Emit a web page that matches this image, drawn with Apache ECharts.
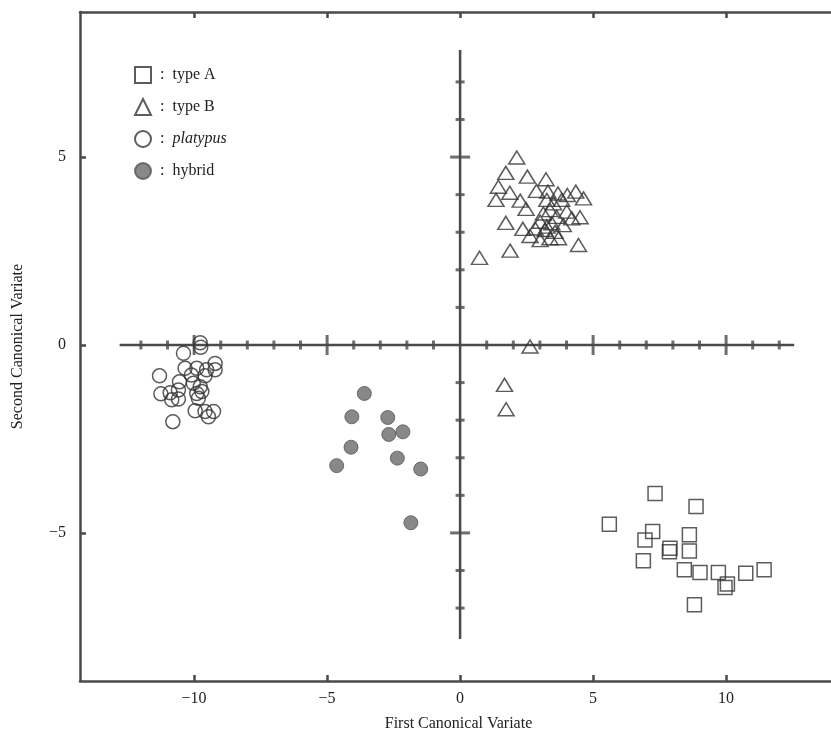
<!DOCTYPE html>
<html>
<head>
<meta charset="utf-8">
<script src="https://cdn.jsdelivr.net/npm/echarts@6/dist/echarts.min.js"></script>
<style>
  html, body { margin: 0; padding: 0; background: #fff; }
  #chart { width: 831px; height: 736px; }
</style>
</head>
<body>
<div id="chart"></div>
<script>
// scores on the first two canonical variates
var typeA = [
  [7.33, -3.95], [8.87, -4.30], [5.61, -4.77], [7.24, -4.96], [6.95, -5.19],
  [8.62, -5.05], [7.89, -5.41], [7.87, -5.50], [8.62, -5.48], [6.89, -5.74],
  [8.43, -5.98], [9.02, -6.05], [9.71, -6.05], [10.74, -6.07], [11.43, -5.98],
  [10.05, -6.36], [9.96, -6.45], [8.81, -6.91]
];
var typeB = [
  [2.13, 4.99], [1.72, 4.58], [2.53, 4.48], [3.23, 4.41], [1.44, 4.21],
  [1.87, 4.05], [2.87, 4.10], [3.30, 4.08], [3.68, 4.03], [4.03, 3.99],
  [4.35, 4.08], [4.64, 3.90], [1.35, 3.86], [2.26, 3.84], [2.48, 3.62],
  [3.26, 3.86], [3.51, 3.77], [3.82, 3.86], [3.38, 3.59], [4.01, 3.55],
  [3.13, 3.50], [3.63, 3.41], [4.51, 3.40], [1.72, 3.25], [3.01, 3.28],
  [3.45, 3.24], [3.88, 3.19], [2.36, 3.09], [2.82, 3.10], [3.20, 3.06],
  [3.57, 3.01], [2.63, 2.90], [3.01, 2.79], [3.38, 2.84], [3.70, 2.84],
  [4.45, 2.66], [1.88, 2.51], [0.73, 2.32], [3.26, 3.15], [4.20, 3.37],
  [2.63, -0.04], [1.67, -1.06], [1.73, -1.71]
];
var platypus = [
  [-9.77, 0.06], [-9.75, -0.06], [-10.40, -0.22], [-9.21, -0.49], [-10.34, -0.62],
  [-9.90, -0.62], [-9.53, -0.66], [-9.21, -0.66], [-11.30, -0.82], [-10.10, -0.80],
  [-9.59, -0.82], [-10.55, -0.98], [-10.03, -1.02], [-9.77, -1.11], [-11.25, -1.30],
  [-10.90, -1.27], [-10.59, -1.20], [-9.90, -1.29], [-9.71, -1.24], [-10.84, -1.46],
  [-10.59, -1.44], [-9.84, -1.42], [-9.96, -1.75], [-9.59, -1.77], [-9.27, -1.77],
  [-9.46, -1.91], [-10.80, -2.04]
];
var hybrid = [
  [-3.60, -1.29], [-4.07, -1.91], [-2.72, -1.93], [-2.68, -2.38], [-2.15, -2.31],
  [-4.10, -2.72], [-2.36, -3.01], [-4.64, -3.21], [-1.48, -3.30], [-1.85, -4.73]
];

// axis ticks / labels
var frameTicks = [-10, -5, 0, 5, 10];
var yFrameTicks = [-5, 0, 5];
// crossed reference lines through the origin
var crossH = [[-12.8, 0], [12.56, 0]];
var crossV = [[0, 7.85], [0, -7.82]];
var crossXTicks = [-12, -11, -10, -9, -8, -7, -6, -5, -4, -3, -2, -1, 1, 2, 3, 4, 5, 6, 7, 8, 9, 10, 11, 12];
var crossYTicks = [-7, -6, -5, -4, -3, -2, -1, 1, 2, 3, 4, 5, 6, 7];

var ink = '#4a4a4a';
var serif = '"Liberation Serif", "DejaVu Serif", serif';

var chart = echarts.init(document.getElementById('chart'));

function frameAxis(pos, isX, showLabel) {
  var ticks = isX ? frameTicks : yFrameTicks;
  return {
    type: 'value',
    position: pos,
    min: isX ? -14.29 : -8.94,
    max: isX ? 14.17 : 8.86,
    axisLine: { show: true, onZero: false, lineStyle: { color: ink, width: 2.5 } },
    axisTick: { show: true, inside: true, length: 6, customValues: ticks, lineStyle: { color: ink, width: 2.5 } },
    axisLabel: {
      show: showLabel,
      customValues: ticks,
      color: '#222',
      fontFamily: serif,
      fontSize: 16,
      margin: isX ? 10 : 14,
      formatter: function (v) { return v < 0 ? '\u2212' + Math.abs(v) : '' + v; }
    },
    splitLine: { show: false }
  };
}

var xB = frameAxis('bottom', true, true);
xB.name = 'First Canonical Variate';
xB.nameLocation = 'middle';
xB.nameGap = 35;
xB.nameTextStyle = { fontFamily: serif, fontSize: 16, color: '#222' };
var yL = frameAxis('left', false, true);
yL.name = 'Second Canonical Variate';
yL.nameLocation = 'middle';
yL.nameGap = 54;
yL.nameTextStyle = { fontFamily: serif, fontSize: 16, color: '#222' };

var markStyle = { color: 'rgba(0,0,0,0)', borderColor: '#333', borderWidth: 1.5 };

var tickData = crossXTicks.map(function (x) {
  return { value: [x, 0], symbolSize: x % 5 === 0 ? [3, 20] : [3, 9] };
}).concat(crossYTicks.map(function (y) {
  return { value: [0, y], symbolSize: y % 5 === 0 ? [20, 3] : [9, 3] };
}));

var option = {
  animation: false,
  backgroundColor: '#fff',
  grid: { left: 80, right: -6, top: 12, bottom: 55, outerBoundsMode: 'none' },
  xAxis: [xB, frameAxis('top', true, false)],
  yAxis: [yL, frameAxis('right', false, false)],
  legend: {
    orient: 'vertical',
    left: 129,
    top: 61,
    itemWidth: 16,
    itemHeight: 16,
    itemGap: 14,
    data: ['type A', 'type B', 'platypus', 'hybrid'],
    formatter: function (name) {
      return name === 'platypus' ? ' :  {i|platypus}' : ' :  ' + name;
    },
    textStyle: {
      fontFamily: serif,
      fontSize: 16,
      color: '#222',
      rich: { i: { fontFamily: serif, fontSize: 16, fontStyle: 'italic', color: '#222' } }
    }
  },
  series: [
    {
      type: 'line', data: crossH, symbol: 'none', silent: true, z: 1,
      lineStyle: { color: ink, width: 2.5 }
    },
    {
      type: 'line', data: crossV, symbol: 'none', silent: true, z: 1,
      lineStyle: { color: ink, width: 2.5 }
    },
    {
      type: 'scatter', data: tickData, symbol: 'rect', silent: true, z: 1,
      itemStyle: { color: ink }
    },
    {
      name: 'type A', type: 'scatter', data: typeA, symbol: 'rect', symbolSize: 14, z: 3,
      itemStyle: markStyle
    },
    {
      name: 'type B', type: 'scatter', data: typeB, symbol: 'triangle', symbolSize: [16, 13], z: 3,
      itemStyle: markStyle
    },
    {
      name: 'platypus', type: 'scatter', data: platypus, symbol: 'circle', symbolSize: 14, z: 3,
      itemStyle: markStyle
    },
    {
      name: 'hybrid', type: 'scatter', data: hybrid, symbol: 'circle', symbolSize: 14, z: 3,
      itemStyle: { color: '#6a6a6a', borderColor: '#555', borderWidth: 1 }
    }
  ]
};
chart.setOption(option);
window.addEventListener('resize', function () {
  chart.resize();
});
</script>
</body>
</html>
